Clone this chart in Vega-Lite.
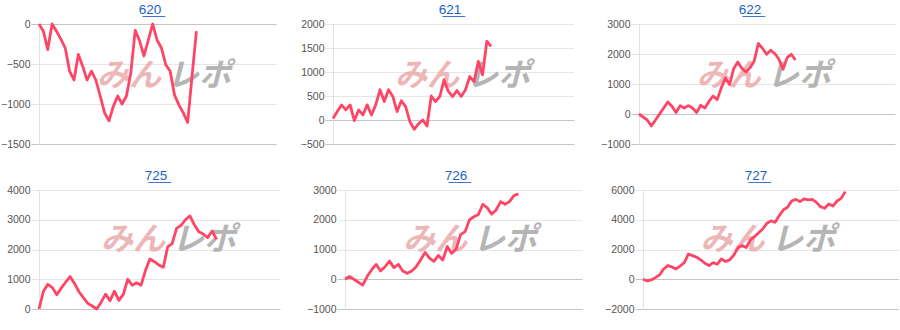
{
  "$schema": "https://vega.github.io/schema/vega-lite/v6.json",
  "padding": {"top": 2, "left": 0, "right": 0, "bottom": 0},
  "background": "white",
  "datasets": {
    "p620": [{"i":0,"v":0},{"i":1,"v":-90},{"i":2,"v":-320},{"i":3,"v":0},{"i":4,"v":-90},{"i":5,"v":-190},{"i":6,"v":-300},{"i":7,"v":-590},{"i":8,"v":-700},{"i":9,"v":-380},{"i":10,"v":-530},{"i":11,"v":-700},{"i":12,"v":-590},{"i":13,"v":-700},{"i":14,"v":-900},{"i":15,"v":-1110},{"i":16,"v":-1210},{"i":17,"v":-1030},{"i":18,"v":-900},{"i":19,"v":-1000},{"i":20,"v":-900},{"i":21,"v":-610},{"i":22,"v":-80},{"i":23,"v":-210},{"i":24,"v":-400},{"i":25,"v":-200},{"i":26,"v":0},{"i":27,"v":-200},{"i":28,"v":-300},{"i":29,"v":-510},{"i":30,"v":-590},{"i":31,"v":-890},{"i":32,"v":-1010},{"i":33,"v":-1110},{"i":34,"v":-1230},{"i":35,"v":-650},{"i":36,"v":-90}],
    "p621": [{"i":0,"v":30},{"i":1,"v":175},{"i":2,"v":315},{"i":3,"v":210},{"i":4,"v":315},{"i":5,"v":-15},{"i":6,"v":210},{"i":7,"v":105},{"i":8,"v":315},{"i":9,"v":105},{"i":10,"v":315},{"i":11,"v":630},{"i":12,"v":385},{"i":13,"v":630},{"i":14,"v":490},{"i":15,"v":175},{"i":16,"v":400},{"i":17,"v":280},{"i":18,"v":-35},{"i":19,"v":-195},{"i":20,"v":-80},{"i":21,"v":0},{"i":22,"v":-125},{"i":23,"v":500},{"i":24,"v":385},{"i":25,"v":490},{"i":26,"v":840},{"i":27,"v":595},{"i":28,"v":490},{"i":29,"v":615},{"i":30,"v":490},{"i":31,"v":630},{"i":32,"v":905},{"i":33,"v":800},{"i":34,"v":1220},{"i":35,"v":940},{"i":36,"v":1640},{"i":37,"v":1535}],
    "p622": [{"i":0,"v":0},{"i":1,"v":-100},{"i":2,"v":-200},{"i":3,"v":-400},{"i":4,"v":-200},{"i":5,"v":0},{"i":6,"v":200},{"i":7,"v":400},{"i":8,"v":260},{"i":9,"v":50},{"i":10,"v":280},{"i":11,"v":200},{"i":12,"v":280},{"i":13,"v":200},{"i":14,"v":50},{"i":15,"v":290},{"i":16,"v":200},{"i":17,"v":420},{"i":18,"v":600},{"i":19,"v":480},{"i":20,"v":870},{"i":21,"v":1200},{"i":22,"v":980},{"i":23,"v":1510},{"i":24,"v":1735},{"i":25,"v":1520},{"i":26,"v":1400},{"i":27,"v":1545},{"i":28,"v":1770},{"i":29,"v":2350},{"i":30,"v":2190},{"i":31,"v":1990},{"i":32,"v":2125},{"i":33,"v":2015},{"i":34,"v":1825},{"i":35,"v":1490},{"i":36,"v":1880},{"i":37,"v":1990},{"i":38,"v":1800}],
    "p725": [{"i":0,"v":0},{"i":1,"v":600},{"i":2,"v":830},{"i":3,"v":720},{"i":4,"v":480},{"i":5,"v":700},{"i":6,"v":900},{"i":7,"v":1090},{"i":8,"v":860},{"i":9,"v":580},{"i":10,"v":380},{"i":11,"v":190},{"i":12,"v":100},{"i":13,"v":0},{"i":14,"v":230},{"i":15,"v":500},{"i":16,"v":280},{"i":17,"v":600},{"i":18,"v":290},{"i":19,"v":490},{"i":20,"v":1000},{"i":21,"v":800},{"i":22,"v":880},{"i":23,"v":800},{"i":24,"v":1300},{"i":25,"v":1680},{"i":26,"v":1590},{"i":27,"v":1480},{"i":28,"v":1400},{"i":29,"v":2090},{"i":30,"v":2200},{"i":31,"v":2710},{"i":32,"v":2810},{"i":33,"v":3000},{"i":34,"v":3130},{"i":35,"v":2830},{"i":36,"v":2600},{"i":37,"v":2520},{"i":38,"v":2400},{"i":39,"v":2620},{"i":40,"v":2350}],
    "p726": [{"i":0,"v":0},{"i":1,"v":90},{"i":2,"v":0},{"i":3,"v":-100},{"i":4,"v":-200},{"i":5,"v":100},{"i":6,"v":320},{"i":7,"v":500},{"i":8,"v":280},{"i":9,"v":420},{"i":10,"v":610},{"i":11,"v":390},{"i":12,"v":500},{"i":13,"v":280},{"i":14,"v":200},{"i":15,"v":280},{"i":16,"v":420},{"i":17,"v":650},{"i":18,"v":900},{"i":19,"v":710},{"i":20,"v":600},{"i":21,"v":800},{"i":22,"v":650},{"i":23,"v":1100},{"i":24,"v":870},{"i":25,"v":1020},{"i":26,"v":1500},{"i":27,"v":1600},{"i":28,"v":2000},{"i":29,"v":2100},{"i":30,"v":2180},{"i":31,"v":2520},{"i":32,"v":2400},{"i":33,"v":2190},{"i":34,"v":2330},{"i":35,"v":2610},{"i":36,"v":2520},{"i":37,"v":2610},{"i":38,"v":2810},{"i":39,"v":2870}],
    "p727": [{"i":0,"v":0},{"i":1,"v":-110},{"i":2,"v":-45},{"i":3,"v":110},{"i":4,"v":290},{"i":5,"v":690},{"i":6,"v":920},{"i":7,"v":830},{"i":8,"v":690},{"i":9,"v":890},{"i":10,"v":1120},{"i":11,"v":1700},{"i":12,"v":1590},{"i":13,"v":1480},{"i":14,"v":1300},{"i":15,"v":1075},{"i":16,"v":920},{"i":17,"v":1120},{"i":18,"v":1010},{"i":19,"v":1370},{"i":20,"v":1190},{"i":21,"v":1300},{"i":22,"v":1630},{"i":23,"v":2130},{"i":24,"v":2260},{"i":25,"v":2130},{"i":26,"v":2640},{"i":27,"v":2860},{"i":28,"v":3130},{"i":29,"v":3380},{"i":30,"v":3760},{"i":31,"v":3920},{"i":32,"v":3830},{"i":33,"v":4280},{"i":34,"v":4660},{"i":35,"v":4840},{"i":36,"v":5260},{"i":37,"v":5370},{"i":38,"v":5220},{"i":39,"v":5400},{"i":40,"v":5330},{"i":41,"v":5370},{"i":42,"v":5170},{"i":43,"v":4880},{"i":44,"v":4770},{"i":45,"v":5060},{"i":46,"v":4920},{"i":47,"v":5260},{"i":48,"v":5440},{"i":49,"v":5890}]
  },
  "config": {
    "view": {"stroke": null},
    "title": {"font": "Liberation Sans", "fontSize": 13.5, "fontWeight": "normal", "color": "#1a63c8", "offset": 3, "anchor": "middle"},
    "axisY": {"grid": true, "domainColor": "#e3e3e3", "labelFont": "Liberation Sans", "labelFontSize": 10.5, "labelColor": "#555555", "tickSize": 8, "labelPadding": 1, "format": "d", "labelOverlap": false, "labelFlush": false},
    "text": {"font": "Noto Sans CJK JP", "fontSize": 32, "fontWeight": "bold", "fontStyle": "italic", "align": "center", "baseline": "middle"},
    "line": {"color": "#ff4566", "strokeWidth": 2.8, "strokeJoin": "round"}
  },
  "spacing": 18,
  "vconcat": [
    {
      "spacing": 20,
      "hconcat": [
        {
          "width": 237, "height": 120,
          "title": {"text": "6\u03322\u03320\u0332", "dx": -7.5},
          "resolve": {"axis": {"x": "independent", "y": "independent"}},
          "layer": [
            {"data": {"values": [{}]}, "mark": {"type": "text", "text": "みん", "color": "#eaa6a6", "opacity": 0.8}, "encoding": {"x": {"datum": 20.6, "type": "quantitative", "axis": null}, "y": {"datum": -645, "type": "quantitative", "axis": null}}},
            {"data": {"values": [{}]}, "mark": {"type": "text", "text": "レポ", "color": "#aeaeae", "opacity": 0.9}, "encoding": {"x": {"datum": 36.6, "type": "quantitative", "axis": null}, "y": {"datum": -645, "type": "quantitative", "axis": null}}},
            {"data": {"name": "p620"}, "mark": "line", "encoding": {
              "x": {"field": "i", "type": "quantitative", "scale": {"domain": [0, 54.2], "nice": false}, "axis": null},
              "y": {"field": "v", "type": "quantitative", "scale": {"domain": [-1500, 0], "nice": false}, "axis": {"title": null, "grid": true, "values": [-1500, -1000, -500, 0], "minExtent": 39, "maxExtent": 39,
                "gridColor": {"condition": {"test": "datum.value === 0 || datum.value === -1500", "value": "#c4c4c4"}, "value": "#e6e6e6"},
                "tickColor": {"condition": {"test": "datum.value === 0 || datum.value === -1500", "value": "#c4c4c4"}, "value": "#e6e6e6"}}}
            }}
          ]
        },
        {
          "width": 241, "height": 120,
          "title": {"text": "6\u03322\u03321\u0332", "dx": -3.5},
          "resolve": {"axis": {"x": "independent", "y": "independent"}},
          "layer": [
            {"data": {"values": [{}]}, "mark": {"type": "text", "text": "みん", "color": "#eaa6a6", "opacity": 0.8}, "encoding": {"x": {"datum": 22.0, "type": "quantitative", "axis": null}, "y": {"datum": 925, "type": "quantitative", "axis": null}}},
            {"data": {"values": [{}]}, "mark": {"type": "text", "text": "レポ", "color": "#aeaeae", "opacity": 0.9}, "encoding": {"x": {"datum": 38.7, "type": "quantitative", "axis": null}, "y": {"datum": 925, "type": "quantitative", "axis": null}}},
            {"data": {"name": "p621"}, "mark": "line", "encoding": {
              "x": {"field": "i", "type": "quantitative", "scale": {"domain": [0, 56.4], "nice": false}, "axis": null},
              "y": {"field": "v", "type": "quantitative", "scale": {"domain": [-500, 2000], "nice": false}, "axis": {"title": null, "grid": true, "values": [-500, 0, 500, 1000, 1500, 2000], "minExtent": 37, "maxExtent": 37,
                "gridColor": {"condition": {"test": "datum.value === 0 || datum.value === -500", "value": "#c4c4c4"}, "value": "#e6e6e6"},
                "tickColor": {"condition": {"test": "datum.value === 0 || datum.value === -500", "value": "#c4c4c4"}, "value": "#e6e6e6"}}}
            }}
          ]
        },
        {
          "width": 256, "height": 120,
          "title": {"text": "6\u03322\u03322\u0332", "dx": -17},
          "resolve": {"axis": {"x": "independent", "y": "independent"}},
          "layer": [
            {"data": {"values": [{}]}, "mark": {"type": "text", "text": "みん", "color": "#eaa6a6", "opacity": 0.8}, "encoding": {"x": {"datum": 21.8, "type": "quantitative", "axis": null}, "y": {"datum": 1280, "type": "quantitative", "axis": null}}},
            {"data": {"values": [{}]}, "mark": {"type": "text", "text": "レポ", "color": "#aeaeae", "opacity": 0.9}, "encoding": {"x": {"datum": 38.9, "type": "quantitative", "axis": null}, "y": {"datum": 1280, "type": "quantitative", "axis": null}}},
            {"data": {"name": "p622"}, "mark": "line", "encoding": {
              "x": {"field": "i", "type": "quantitative", "scale": {"domain": [0, 62.2], "nice": false}, "axis": null},
              "y": {"field": "v", "type": "quantitative", "scale": {"domain": [-1000, 3000], "nice": false}, "axis": {"title": null, "grid": true, "values": [-1000, 0, 1000, 2000, 3000], "minExtent": 45, "maxExtent": 45,
                "gridColor": {"condition": {"test": "datum.value === 0 || datum.value === -1000", "value": "#c4c4c4"}, "value": "#e6e6e6"},
                "tickColor": {"condition": {"test": "datum.value === 0 || datum.value === -1000", "value": "#c4c4c4"}, "value": "#e6e6e6"}}}
            }}
          ]
        }
      ]
    },
    {
      "spacing": 20,
      "hconcat": [
        {
          "width": 241, "height": 119,
          "title": {"text": "7\u03322\u03325\u0332", "dx": -3.5},
          "resolve": {"axis": {"x": "independent", "y": "independent"}},
          "layer": [
            {"data": {"values": [{}]}, "mark": {"type": "text", "text": "みん", "color": "#eaa6a6", "opacity": 0.8}, "encoding": {"x": {"datum": 21.2, "type": "quantitative", "axis": null}, "y": {"datum": 2320, "type": "quantitative", "axis": null}}},
            {"data": {"values": [{}]}, "mark": {"type": "text", "text": "レポ", "color": "#aeaeae", "opacity": 0.9}, "encoding": {"x": {"datum": 37.2, "type": "quantitative", "axis": null}, "y": {"datum": 2320, "type": "quantitative", "axis": null}}},
            {"data": {"name": "p725"}, "mark": "line", "encoding": {
              "x": {"field": "i", "type": "quantitative", "scale": {"domain": [0, 54.3], "nice": false}, "axis": null},
              "y": {"field": "v", "type": "quantitative", "scale": {"domain": [0, 4000], "nice": false}, "axis": {"title": null, "grid": true, "values": [0, 1000, 2000, 3000, 4000], "minExtent": 33, "maxExtent": 33,
                "gridColor": {"condition": {"test": "datum.value === 0", "value": "#c4c4c4"}, "value": "#e6e6e6"},
                "tickColor": {"condition": {"test": "datum.value === 0", "value": "#c4c4c4"}, "value": "#e6e6e6"}}}
            }}
          ]
        },
        {
          "width": 237, "height": 119,
          "title": {"text": "7\u03322\u03326\u0332", "dx": -7.5},
          "resolve": {"axis": {"x": "independent", "y": "independent"}},
          "layer": [
            {"data": {"values": [{}]}, "mark": {"type": "text", "text": "みん", "color": "#eaa6a6", "opacity": 0.8}, "encoding": {"x": {"datum": 20.3, "type": "quantitative", "axis": null}, "y": {"datum": 1320, "type": "quantitative", "axis": null}}},
            {"data": {"values": [{}]}, "mark": {"type": "text", "text": "レポ", "color": "#aeaeae", "opacity": 0.9}, "encoding": {"x": {"datum": 36.0, "type": "quantitative", "axis": null}, "y": {"datum": 1320, "type": "quantitative", "axis": null}}},
            {"data": {"name": "p726"}, "mark": "line", "encoding": {
              "x": {"field": "i", "type": "quantitative", "scale": {"domain": [0, 53.3], "nice": false}, "axis": null},
              "y": {"field": "v", "type": "quantitative", "scale": {"domain": [-1000, 3000], "nice": false}, "axis": {"title": null, "grid": true, "values": [-1000, 0, 1000, 2000, 3000], "minExtent": 45, "maxExtent": 45,
                "gridColor": {"condition": {"test": "datum.value === 0 || datum.value === -1000", "value": "#c4c4c4"}, "value": "#e6e6e6"},
                "tickColor": {"condition": {"test": "datum.value === 0 || datum.value === -1000", "value": "#c4c4c4"}, "value": "#e6e6e6"}}}
            }}
          ]
        },
        {
          "width": 256, "height": 119,
          "title": {"text": "7\u03322\u03327\u0332", "dx": -15},
          "resolve": {"axis": {"x": "independent", "y": "independent"}},
          "layer": [
            {"data": {"values": [{}]}, "mark": {"type": "text", "text": "みん", "color": "#eaa6a6", "opacity": 0.8}, "encoding": {"x": {"datum": 21.7, "type": "quantitative", "axis": null}, "y": {"datum": 2640, "type": "quantitative", "axis": null}}},
            {"data": {"values": [{}]}, "mark": {"type": "text", "text": "レポ", "color": "#aeaeae", "opacity": 0.9}, "encoding": {"x": {"datum": 38.8, "type": "quantitative", "axis": null}, "y": {"datum": 2640, "type": "quantitative", "axis": null}}},
            {"data": {"name": "p727"}, "mark": "line", "encoding": {
              "x": {"field": "i", "type": "quantitative", "scale": {"domain": [0, 62.0], "nice": false}, "axis": null},
              "y": {"field": "v", "type": "quantitative", "scale": {"domain": [-2000, 6000], "nice": false}, "axis": {"title": null, "grid": true, "values": [-2000, 0, 2000, 4000, 6000], "minExtent": 41, "maxExtent": 41,
                "gridColor": {"condition": {"test": "datum.value === 0 || datum.value === -2000", "value": "#c4c4c4"}, "value": "#e6e6e6"},
                "tickColor": {"condition": {"test": "datum.value === 0 || datum.value === -2000", "value": "#c4c4c4"}, "value": "#e6e6e6"}}}
            }}
          ]
        }
      ]
    }
  ]
}
